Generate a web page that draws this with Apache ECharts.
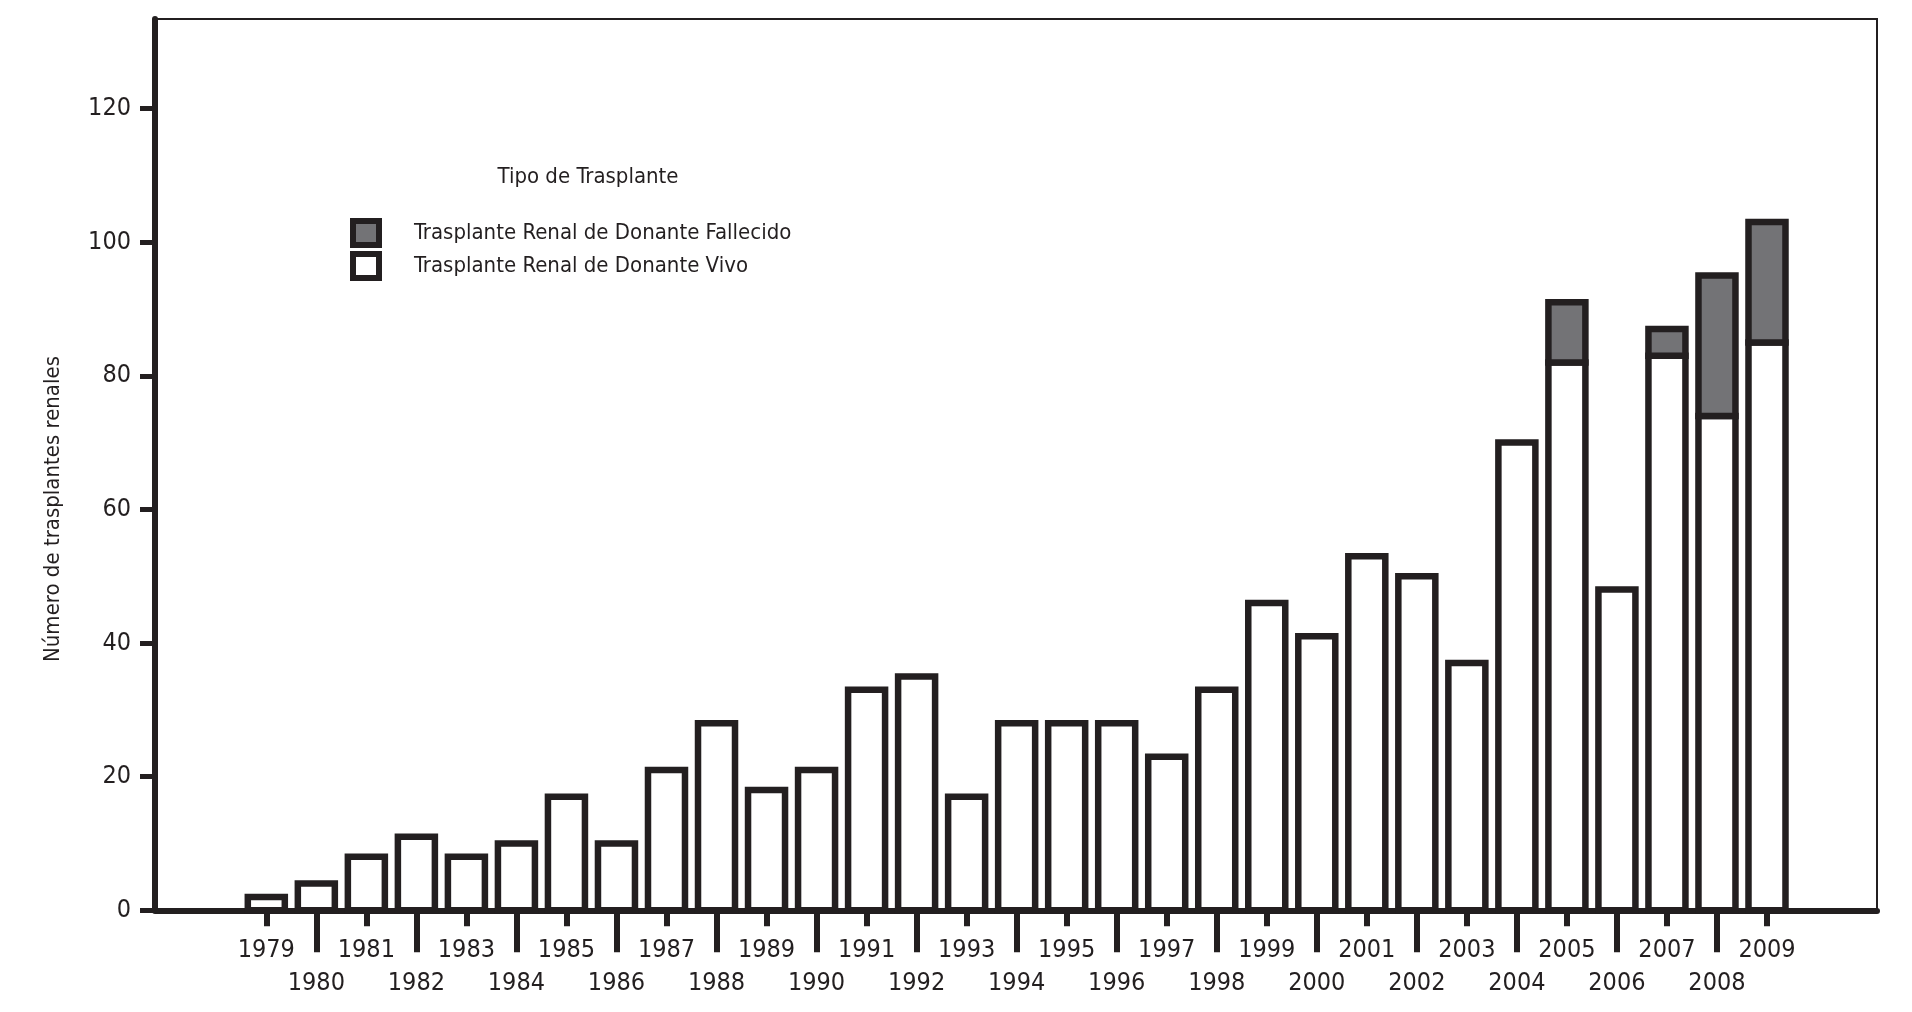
<!DOCTYPE html>
<html>
<head>
<meta charset="utf-8">
<script src="https://cdn.jsdelivr.net/npm/echarts@6/dist/echarts.min.js"></script>
<style>
html,body{margin:0;padding:0;background:#fff;}
#chart{width:1912px;height:1012px;}
</style>
</head>
<body>
<div id="chart"></div>
<script>
const years = ['1979','1980','1981','1982','1983','1984','1985','1986','1987','1988','1989','1990','1991','1992','1993','1994','1995','1996','1997','1998','1999','2000','2001','2002','2003','2004','2005','2006','2007','2008','2009'];
const vivo = [2,4,8,11,8,10,17,10,21,28,18,21,33,35,17,28,28,28,23,33,46,41,53,50,37,70,82,48,83,74,85];
const fallecido = [0,0,0,0,0,0,0,0,0,0,0,0,0,0,0,0,0,0,0,0,0,0,0,0,0,0,9,0,4,21,18];
const yTicks = [0,20,40,60,80,100,120];
const nameVivo = 'Trasplante Renal de Donante Vivo';
const nameFall = 'Trasplante Renal de Donante Fallecido';
const yAxisName = 'Número de trasplantes renales';
const legendTitle = 'Tipo de Trasplante';

const INK = '#231f20';
const GREY = '#737376';
const FONT = "'DejaVu Sans Condensed', 'Liberation Sans Narrow', 'Noto Sans', sans-serif";
const YMAX = 133.4;
const BAR_W = 37;
const BORDER = 6.5;

// stacked segments [categoryIndex, bottom, top]
const vivoSeg = vivo.map((v, i) => [i, 0, v]);
const fallSeg = fallecido.map((f, i) => [i, vivo[i], vivo[i] + f]);

function makeRender(fill) {
  return function (params, api) {
    const lo = api.value(1), hi = api.value(2);
    if (!(hi > lo)) return null;
    const p0 = api.coord([api.value(0), lo]);
    const p1 = api.coord([api.value(0), hi]);
    return {
      type: 'rect',
      shape: {x: p0[0] - BAR_W / 2, y: p1[1], width: BAR_W, height: p0[1] - p1[1]},
      style: {fill: fill, stroke: INK, lineWidth: BORDER}
    };
  };
}

const chart = echarts.init(document.getElementById('chart'), null, {renderer: 'canvas'});
const option = {
  backgroundColor: '#fff',
  animation: false,
  textStyle: {fontFamily: FONT},
  grid: [
    {left: 155, right: 35, top: 19, bottom: 101.7, show: true, borderColor: INK, borderWidth: 2, backgroundColor: 'transparent'},
    {left: 241.3, right: 120, top: 19, bottom: 101.7}
  ],
  xAxis: [
    {gridIndex: 0, type: 'value', min: 0, max: 1, position: 'bottom',
     axisLine: {show: true, lineStyle: {color: INK, width: 6}},
     axisTick: {show: false}, axisLabel: {show: false}, splitLine: {show: false}},
    {gridIndex: 1, type: 'category', data: years, position: 'bottom',
     axisLine: {show: false},
     axisTick: {show: true, alignWithLabel: true, length: 16, interval: (i) => i % 2 === 0, lineStyle: {color: INK, width: 6}},
     axisLabel: {show: true, interval: (i) => i % 2 === 0, margin: 28, fontSize: 25, color: INK, fontFamily: FONT},
     splitLine: {show: false}},
    {gridIndex: 1, type: 'category', data: years, position: 'bottom', offset: 0,
     axisLine: {show: false},
     axisTick: {show: true, alignWithLabel: true, length: 42, interval: (i) => i % 2 === 1, lineStyle: {color: INK, width: 6}},
     axisLabel: {show: true, interval: (i) => i % 2 === 1, margin: 61, fontSize: 25, color: INK, fontFamily: FONT},
     splitLine: {show: false}}
  ],
  yAxis: [
    {gridIndex: 0, type: 'value', min: 0, max: YMAX,
     axisLine: {show: true, lineStyle: {color: INK, width: 6}},
     axisTick: {show: true, length: 15, customValues: yTicks, lineStyle: {color: INK, width: 5}},
     axisLabel: {show: true, customValues: yTicks, margin: 24, fontSize: 25, color: INK, fontFamily: FONT},
     splitLine: {show: false}},
    {gridIndex: 1, type: 'value', min: 0, max: YMAX, show: false, splitLine: {show: false}}
  ],
  legend: {
    orient: 'vertical', left: 350, top: 218, padding: 0,
    itemWidth: 26, itemHeight: 24, itemGap: 3,
    data: [
      {name: nameFall, icon: 'rect', itemStyle: {color: GREY, borderColor: INK, borderWidth: 6}},
      {name: nameVivo, icon: 'rect', itemStyle: {color: '#ffffff', borderColor: INK, borderWidth: 6}}
    ],
    textStyle: {fontSize: 22, lineHeight: 24, color: INK, fontFamily: FONT, padding: [0, 0, 0, 30]}
  },
  graphic: [
    {type: 'text', x: 53, y: 509, rotation: Math.PI / 2,
     style: {text: yAxisName, fontSize: 22, fontFamily: FONT, fill: INK, align: 'center', verticalAlign: 'middle'}},
    {type: 'text', x: 588, y: 177,
     style: {text: legendTitle, fontSize: 22, fontFamily: FONT, fill: INK, align: 'center', verticalAlign: 'middle'}}
  ],
  series: [
    {name: nameVivo, type: 'custom', xAxisIndex: 1, yAxisIndex: 1, data: vivoSeg,
     encode: {x: 0, y: [1, 2]}, renderItem: makeRender('#ffffff'),
     itemStyle: {color: '#ffffff', borderColor: INK, borderWidth: BORDER}},
    {name: nameFall, type: 'custom', xAxisIndex: 1, yAxisIndex: 1, data: fallSeg,
     encode: {x: 0, y: [1, 2]}, renderItem: makeRender(GREY),
     itemStyle: {color: GREY, borderColor: INK, borderWidth: BORDER}}
  ]
};
chart.setOption(option);
</script>
</body>
</html>
